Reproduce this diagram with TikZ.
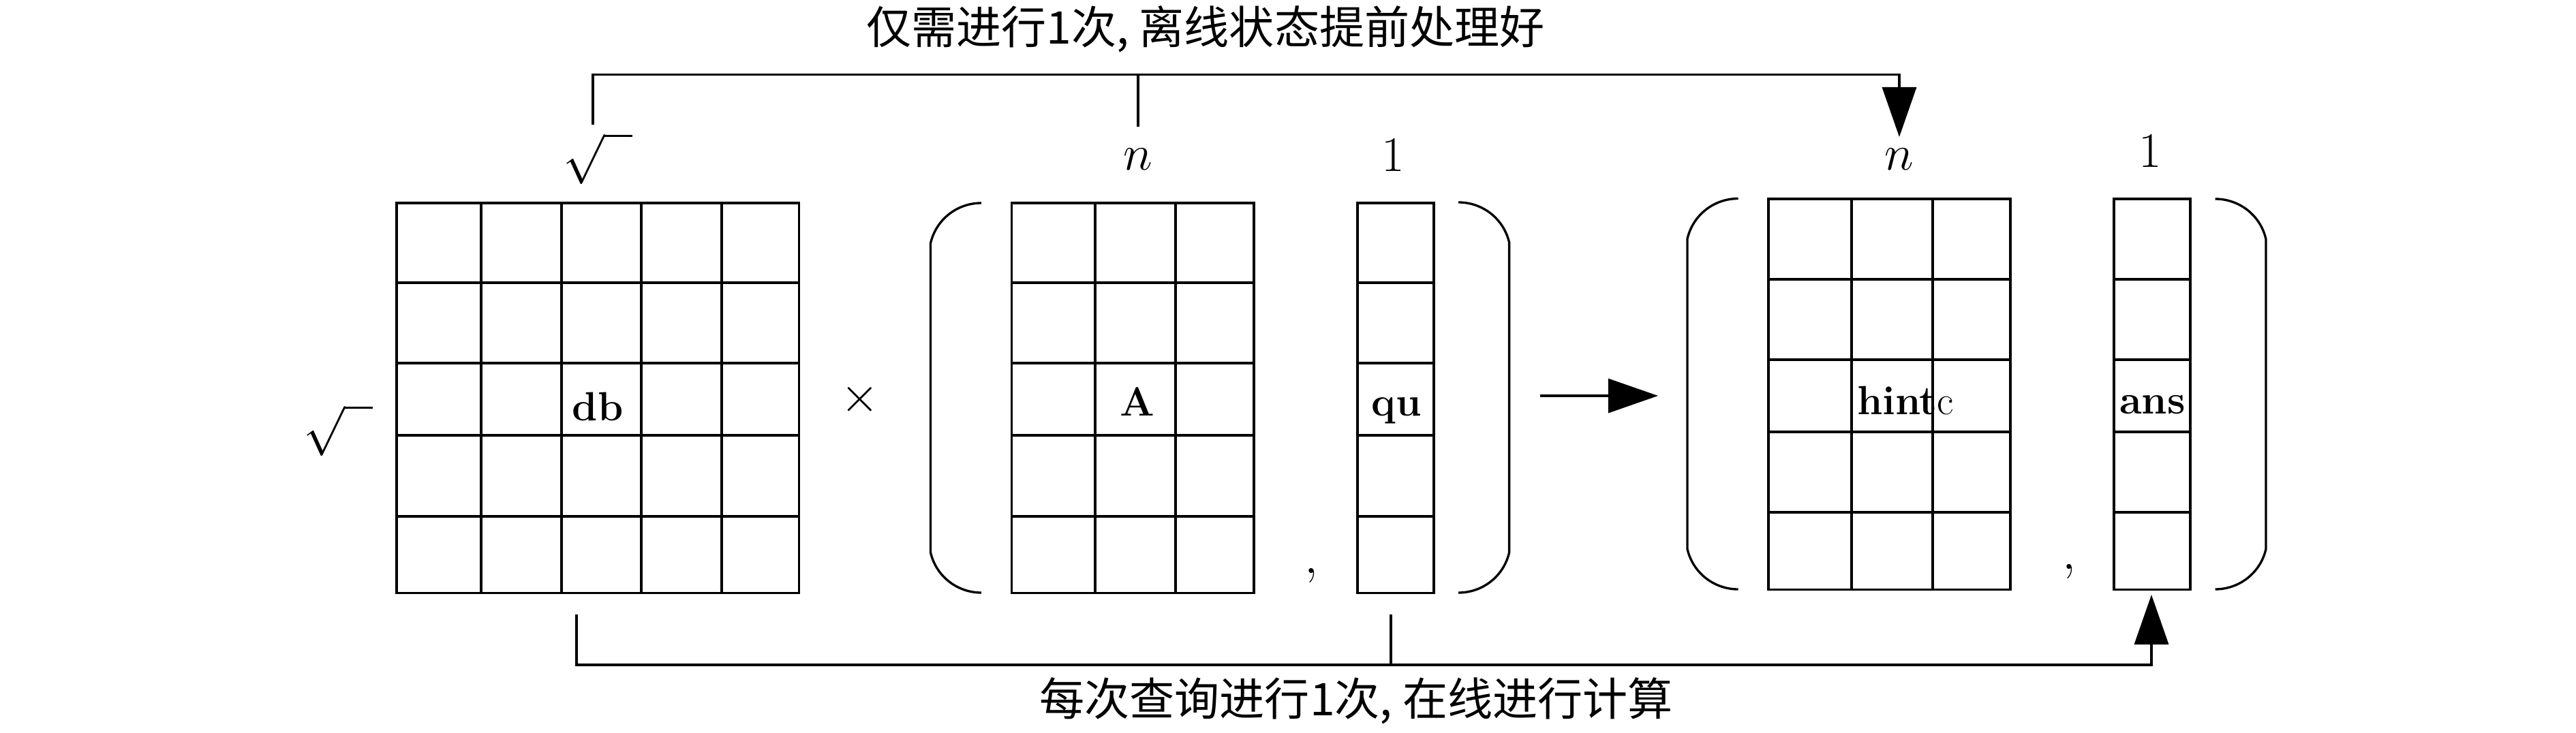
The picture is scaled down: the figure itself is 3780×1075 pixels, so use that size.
\documentclass[tikz,border=0pt]{standalone}
\usepackage{fontspec}
\newfontfamily\cjk{Noto Sans CJK SC}
\usetikzlibrary{arrows.meta}
\newcommand\myLP[3]{\draw ({#1+74.5},#2) .. controls ({#1+38.9},#2) and ({#1+8},{#2+24.3}) .. (#1,{#2+59}) -- (#1,{#3-59}) .. controls ({#1+8},{#3-24.3}) and ({#1+38.9},#3) .. ({#1+74.5},#3);}
\newcommand\myRP[3]{\draw ({#1-74.5},#2) .. controls ({#1-38.9},#2) and ({#1-8},{#2+24.3}) .. (#1,{#2+59}) -- (#1,{#3-59}) .. controls ({#1-8},{#3-24.3}) and ({#1-38.9},#3) .. ({#1-74.5},#3);}
\begin{document}
\begin{tikzpicture}[x=0.01cm,y=-0.01cm,line width=0.95pt,
  lab/.style={inner sep=0pt,font=\fontsize{19.5}{23}\selectfont},
  blab/.style={inner sep=0pt,anchor=base,font=\fontsize{17}{20}\selectfont\bfseries},
  cjktxt/.style={inner sep=0pt,font=\fontsize{18.8}{22}\selectfont\cjk},
  arr/.style={-{Triangle[length=0.73cm,width=0.5cm]}},
  gridbox/.style={draw,inner sep=0pt,line width=0.95pt}]
\useasboundingbox (0,0) rectangle (3780,1075);
% grids
\node[gridbox,minimum width=5.90cm,minimum height=5.72cm] (db) at (877,584) {};
\foreach \x in {706,824,941,1059} \draw (\x,298) -- (\x,870);
\foreach \y in {415,533,639,758} \draw (582,\y) -- (1172,\y);
\node[gridbox,minimum width=3.555cm,minimum height=5.72cm] (A) at (1662.25,584) {};
\foreach \x in {1607,1725} \draw (\x,298) -- (\x,870);
\foreach \y in {415,533,639,758} \draw (1484.5,\y) -- (1840,\y);
\node[gridbox,minimum width=1.12cm,minimum height=5.72cm] (qu) at (2048,584) {};
\foreach \y in {415,533,639,758} \draw (1992,\y) -- (2104,\y);
\node[gridbox,minimum width=3.55cm,minimum height=5.73cm] (hint) at (2772.5,578.5) {};
\foreach \x in {2717,2836} \draw (\x,292) -- (\x,865);
\foreach \y in {410,528,634,752} \draw (2595,\y) -- (2950,\y);
\node[gridbox,minimum width=1.12cm,minimum height=5.73cm] (ans) at (3158,578.5) {};
\foreach \y in {410,528,634,752} \draw (3102,\y) -- (3214,\y);
% parentheses
\myLP{1365.5}{298}{870}
\myRP{2214.6}{297}{870}
\myLP{2476}{291.5}{865}
\myRP{3325}{292}{865}
% labels
\node[blab] (dbl) at (877,617) {db};
\node[blab] (Al) at (1669,610) {A};
\node[blab] (qul) at (2049,610) {qu};
\node[blab] (hintl) at (2796,608) {hint\textmd{c}};
\node[blab] (ansl) at (3158.5,607) {ans};
\node[lab] (sq1) at (877,233) {$\sqrt{\hspace{0.6em}}$};
\node[lab] (sq2) at (496,632) {$\sqrt{\hspace{0.6em}}$};
\node[lab] (n1) at (1670,234) {$n$};
\node[lab] (o1) at (2044,227.5) {$1$};
\node[lab] (n2) at (2787,233.5) {$n$};
\node[lab] (o2) at (3155,222) {$1$};
\node[lab] (times) at (1262,586) {$\times$};
\node[lab] (cm1) at (1924,845) {$,$};
\node[lab] (cm2) at (3036,839) {$,$};
\node[cjktxt] (toptxt) at (1769,42.5) {仅需进行1次, 离线状态提前处理好};
\node[cjktxt] (bottxt) at (1990,1029) {每次查询进行1次, 在线进行计算};
% connectors
\coordinate (ytop) at (0,109.5);
\coordinate (ybot) at (0,976);
\coordinate (t1) at (870,182.5);
\coordinate (t2) at (1670,186);
\coordinate (tend) at (2787,201);
\coordinate (b1) at (846,902);
\coordinate (b2) at (2041,902);
\coordinate (bend) at (3157,873);
\coordinate (ra1) at (2260,581);
\coordinate (ra2) at (2433,581);
\draw[arr] (t1) -- (t1 |- ytop) -- (tend |- ytop) -- (tend);
\draw (t2) -- (t2 |- ytop);
\draw[arr] (b1) -- (b1 |- ybot) -- (bend |- ybot) -- (bend);
\draw (b2) -- (b2 |- ybot);
\draw[arr] (ra1) -- (ra2);
\end{tikzpicture}
\end{document}
